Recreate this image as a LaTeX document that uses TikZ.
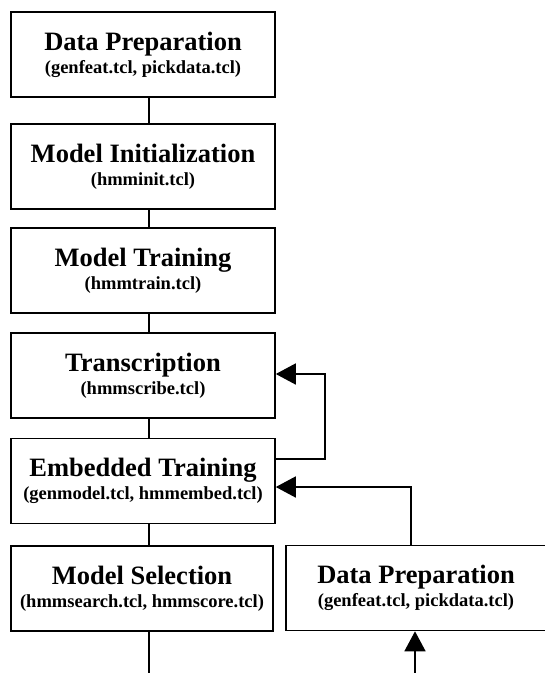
\documentclass[tikz,border=0pt]{standalone}
\usepackage{fontspec}
\setmainfont{Liberation Serif}
\usetikzlibrary{arrows.meta,calc,positioning}
\newcommand{\stepfont}{\fontsize{26.5}{28}\selectfont\bfseries}
\tikzset{
    stage/.style={
        ,   draw
        ,   rectangle
        ,   line width=1.6pt
        ,   minimum width=264pt
        ,   minimum height=85pt
        ,   align=center
        ,   inner sep=0pt
        ,   font=\fontsize{18.5}{23}\selectfont\bfseries
    },
    link/.style={
        ,   line width=1.6pt
    },
    feed/.style={
        ,   line width=1.6pt
        ,   -{Triangle[length=20pt,width=21pt]}
    }
}

\begin{document}
\begin{tikzpicture}[x=1pt, y=-1pt]
			\useasboundingbox (0,0) rectangle (545,673);
			\node[stage] (dp) at (143,54.5) {{\stepfont Data Preparation}\\(genfeat.tcl, pickdata.tcl)};
			\node[stage] (mi) at (143,166.5) {{\stepfont Model Initialization}\\(hmminit.tcl)};
			\node[stage] (mt) at (143,270.5) {{\stepfont Model Training}\\(hmmtrain.tcl)};
			\node[stage] (tr) at (143,375.5) {{\stepfont Transcription}\\(hmmscribe.tcl)};
			\node[stage] (et) at (143,481) {{\stepfont Embedded Training}\\(genmodel.tcl, hmmembed.tcl)};
			\node[stage, minimum width=262pt] (ms) at (142,588.5) {{\stepfont Model Selection}\\(hmmsearch.tcl, hmmscore.tcl)};
			\node[stage, minimum width=260pt] (dp2) at (416,588) {{\stepfont Data Preparation}\\(genfeat.tcl, pickdata.tcl)};
			
			% main chain, slightly right of centre
			\draw[link] ($(dp.south)+(6,0)$) -- ($(mi.north)+(6,0)$);
			\draw[link] ($(mi.south)+(6,0)$) -- ($(mt.north)+(6,0)$);
			\draw[link] ($(mt.south)+(6,0)$) -- ($(tr.north)+(6,0)$);
			\draw[link] ($(tr.south)+(6,0)$) -- ($(et.north)+(6,0)$);
			\draw[link] ($(et.south)+(6,0)$) -- ($(ms.north)+(7,0)$);
			\coordinate (out) at (149,673);
			\draw[link] ($(ms.south)+(7,0)$) -- (out);
			
			% loops back
			\draw[feed] ($(et.east)+(0,-22)$) -- ++(49,0) |- ($(tr.east)+(0,-1.5)$);
			\draw[feed] ($(dp2.north)+(-5,0)$) |- ($(et.east)+(0,6)$);
			\coordinate (in) at (415,673);
			\draw[feed] (in) -- ($(dp2.south)+(-1,0)$);
\end{tikzpicture}
\end{document}
